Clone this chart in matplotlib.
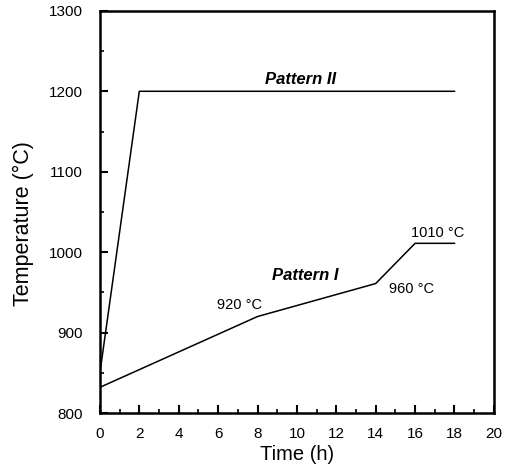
import matplotlib
matplotlib.use("Agg")
import matplotlib.pyplot as plt
from matplotlib.ticker import MultipleLocator

plt.rcParams['font.family'] = ['Liberation Sans', 'DejaVu Sans']

p2_time = [0, 2, 18]
p2_temp = [850, 1200, 1200]
p1_time = [0, 8, 14, 16, 18]
p1_temp = [832, 920, 961, 1011, 1011]

annotations = [
    ("Pattern II", 10.2, 1215, True),
    ("Pattern I", 10.4, 971, True),
    ("920 °C", 7.08, 934, False),
    ("960 °C", 15.8, 954, False),
    ("1010 °C", 17.15, 1024, False),
]

fig = plt.figure(figsize=(5.15, 4.71), dpi=100)
ax = fig.add_axes([0.194, 0.123, 0.765, 0.854])
ax.plot(p2_time, p2_temp, color='black', lw=1.1)
ax.plot(p1_time, p1_temp, color='black', lw=1.1)

for text, x, y, bold in annotations:
    if bold:
        ax.text(x, y, text, ha='center', va='center', fontsize=12,
                fontweight='bold', fontstyle='italic')
    else:
        ax.text(x, y, text, ha='center', va='center', fontsize=10.5)

ax.set_xlim(0, 20)
ax.set_ylim(800, 1300)
ax.xaxis.set_major_locator(MultipleLocator(2))
ax.xaxis.set_minor_locator(MultipleLocator(1))
ax.yaxis.set_major_locator(MultipleLocator(100))
ax.yaxis.set_minor_locator(MultipleLocator(50))
ax.tick_params(which='major', direction='in', length=6, width=1.5, labelsize=11)
ax.tick_params(axis='x', which='major', pad=10)
ax.tick_params(axis='y', which='major', pad=12)
ax.tick_params(which='minor', direction='in', length=3, width=1.2)
for s in ax.spines.values():
    s.set_linewidth(1.8)
ax.set_xlabel('Time (h)', fontsize=14.5)
ax.set_ylabel('Temperature (\u00b0C)', fontsize=15.5)
ax.xaxis.set_label_coords(0.5, -0.104)
ax.yaxis.set_label_coords(-0.195, 0.47)
ax.xaxis.label.set_va('center')
ax.yaxis.label.set_va('center')

fig.savefig('out.png', dpi=100)
